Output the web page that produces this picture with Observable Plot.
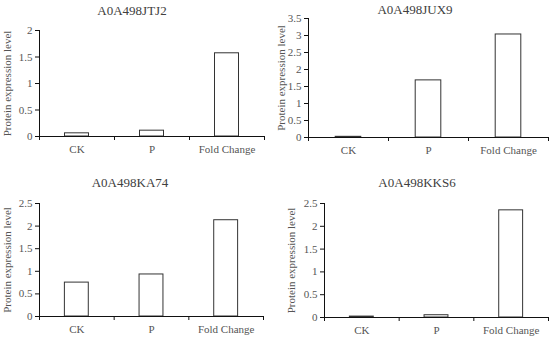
<!DOCTYPE html>
<html>
<head>
<meta charset="utf-8">
<script src="https://cdn.jsdelivr.net/npm/d3@7"></script>
<script src="https://cdn.jsdelivr.net/npm/@observablehq/plot@0.6"></script>
<style>
  html, body { margin: 0; padding: 0; background: #fff; }
  #root { position: relative; width: 550px; height: 342px; overflow: hidden; font-family: "Liberation Serif", "Times New Roman", serif; }
  .panel { position: absolute; width: 275px; height: 171px; }
  .panel svg text { font-family: "Liberation Serif", "Times New Roman", serif; }
  .title { position: absolute; transform: translate(-50%, -50%); font-size: 13px; color: #404040; white-space: nowrap; }
</style>
</head>
<body>
<div id="root"></div>
<script>
const categories = ["CK", "P", "Fold Change"];
const proteins = ["A0A498JTJ2", "A0A498JUX9", "A0A498KA74", "A0A498KKS6"];
const valuesJTJ2 = [0.06, 0.11, 1.57];
const valuesJUX9 = [0.02, 1.68, 3.03];
const valuesKA74 = [0.75, 0.93, 2.13];
const valuesKKS6 = [0.02, 0.05, 2.35];
const yMaxima = [2, 3.5, 2.5, 2.5];
const yLabel = "Protein expression level";

const seriesList = [valuesJTJ2, valuesJUX9, valuesKA74, valuesKKS6];
const layouts = [
  {left: 0, top: 0, ml: 39, mt: 30, mb: 35, mr: 11, labelOff: 32, tx: 132, ty: 11},
  {left: 275, top: 0, ml: 33, mt: 18, mb: 34, mr: 2, labelOff: 27, tx: 415, ty: 10},
  {left: 0, top: 171, ml: 39, mt: 32, mb: 26, mr: 12, labelOff: 32, tx: 130, ty: 183},
  {left: 275, top: 171, ml: 49, mt: 32, mb: 25, mr: 2, labelOff: 33, tx: 417, ty: 183}
];

const root = document.getElementById("root");
const textColor = "#555555";

seriesList.forEach((vals, k) => {
  const L = layouts[k];
  const data = categories.map((c, i) => ({cat: c, i, v: vals[i]}));
  const W = 275, H = 171;
  const band = (W - L.ml - L.mr) / categories.length;
  const inset = band * 0.34;
  const yTicks = d3.range(0, yMaxima[k] + 1e-9, 0.5);
  const chart = Plot.plot({
    width: W,
    height: H,
    marginLeft: L.ml,
    marginRight: L.mr,
    marginTop: L.mt,
    marginBottom: L.mb,
    style: {fontFamily: '"Liberation Serif", "Times New Roman", serif', fontSize: "11px", color: textColor, background: "transparent", overflow: "visible"},
    x: {type: "linear", domain: [0, categories.length], axis: null},
    y: {domain: [0, yMaxima[k]], axis: null},
    marks: [
      Plot.rectY(data, {x1: d => d.i, x2: d => d.i + 1, y: "v", fill: "white", stroke: "#333", strokeWidth: 1, insetLeft: inset, insetRight: inset}),
      Plot.ruleX([0], {stroke: "#111"}),
      Plot.ruleY([0], {stroke: "#111"}),
      Plot.axisY({ticks: yTicks, tickSize: 4, tickPadding: 3, tickFormat: d => String(d), stroke: "#111", fill: textColor, label: null}),
      Plot.axisX({ticks: d3.range(0, categories.length + 1), tickSize: 4, tickFormat: () => "", stroke: "#111", label: null}),
      Plot.axisX({ticks: categories.map((c, i) => i + 0.5), tickSize: 0, tickPadding: 9, tickFormat: d => categories[Math.floor(d)], fill: textColor, label: null}),
      Plot.text([yLabel], {text: d => d, frameAnchor: "left", textAnchor: "middle", lineAnchor: "middle", rotate: -90, dx: -L.labelOff, fill: textColor, fontSize: 11})
    ]
  });
  const div = document.createElement("div");
  div.className = "panel";
  div.style.left = L.left + "px";
  div.style.top = L.top + "px";
  div.appendChild(chart);
  root.appendChild(div);
  const t = document.createElement("div");
  t.className = "title";
  t.textContent = proteins[k];
  t.style.left = L.tx + "px";
  t.style.top = L.ty + "px";
  root.appendChild(t);
});
</script>
</body>
</html>
